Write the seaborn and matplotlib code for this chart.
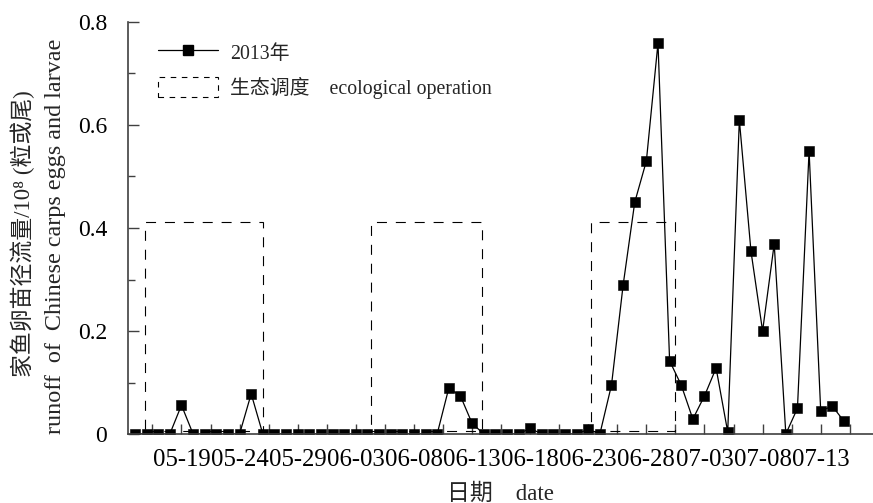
import numpy as np
import pandas as pd
import matplotlib
matplotlib.use("Agg")
import matplotlib.pyplot as plt
import seaborn as sns
from matplotlib.lines import Line2D
from matplotlib.patches import Patch, Rectangle
from matplotlib.ticker import FixedLocator, MultipleLocator

# ---------------- data ----------------
dates = pd.date_range("2013-05-15", "2013-07-15", freq="D")
runoff = [0, 0, 0, 0, 0.056, 0, 0, 0, 0, 0,
          0.078, 0, 0, 0, 0, 0, 0, 0, 0, 0,
          0, 0, 0, 0, 0, 0, 0, 0.089, 0.074, 0.021,
          0, 0, 0, 0, 0.011, 0, 0, 0, 0, 0.009,
          0, 0.095, 0.289, 0.45, 0.53, 0.759, 0.142, 0.095, 0.029, 0.074,
          0.128, 0.004, 0.61, 0.355, 0.2, 0.369, 0, 0.05, 0.55, 0.045,
          0.054, 0.025]
tick_labels = ["05-19", "05-24", "05-29", "06-03", "06-08", "06-13",
               "06-18", "06-23", "06-28", "07-03", "07-08", "07-13"]
# ecological operation periods (day offsets from 05-15) and box height
op_start = [0.9, 20.3, 39.2]
op_end = [11.0, 29.9, 46.5]
op_low = 0.005
op_high = 0.412

series_label = "2013年"
op_label = "生态调度    ecological operation"
ylabel_cn = "家鱼卵苗径流量/10⁸ (粒或尾)"
ylabel_en = "runoff  of  Chinese carps eggs and larvae"
xlabel = "日期    date"

# ---------------- style ----------------
sns.set_theme(style="ticks")
FAM = ["Liberation Serif", "Noto Sans CJK SC", "DejaVu Sans"]
plt.rcParams["font.family"] = FAM

W, H = 873, 503
fig = plt.figure(figsize=(W / 100, H / 100), dpi=100)
ax = fig.add_axes([128 / W, (H - 434) / H, (W - 128) / W, (434 - 22) / H])

df = pd.DataFrame({"day": np.arange(len(dates)), "runoff": runoff})
sns.lineplot(data=df, x="day", y="runoff", ax=ax, color="black", lw=0.9,
             marker="s", markersize=7.6, markeredgecolor="black",
             markerfacecolor="black", markeredgewidth=0.4)

for s, e in zip(op_start, op_end):
    ax.add_patch(Rectangle((s, op_low), e - s, op_high - op_low, fill=False,
                           edgecolor="black", lw=0.8, ls=(0, (9, 8)), zorder=1))

ax.set_xlim(-0.6, 63.5)
ax.set_ylim(0, 0.8)

label_dates = [(pd.Timestamp("2013-" + t) - dates[0]).days for t in tick_labels]
ax.xaxis.set_major_locator(FixedLocator(label_dates))
ax.set_xticklabels(tick_labels)
minor = [label_dates[0] - 2.5] + [d + 2.5 for d in label_dates]
ax.xaxis.set_minor_locator(FixedLocator(minor))
ax.set_yticks([0, 0.2, 0.4, 0.6, 0.8])
ax.set_yticklabels(["0", "0.2", "0.4", "0.6", "0.8"])
ax.yaxis.set_minor_locator(MultipleLocator(0.1))

ax.tick_params(axis="x", which="both", direction="in", length=7, width=1,
               color="#404040", labelsize=17.8, pad=10.5, labelcolor="black")
ax.tick_params(axis="y", which="major", direction="in", length=8, width=1,
               color="#404040", labelsize=17, pad=15, labelcolor="black")
ax.tick_params(axis="y", which="minor", direction="in", length=5, width=1,
               color="#404040")

for sp in ["top", "right"]:
    ax.spines[sp].set_visible(False)
for sp in ["left", "bottom"]:
    ax.spines[sp].set_color("#404040")
    ax.spines[sp].set_linewidth(1.2)

ax.set_xlabel(xlabel, fontsize=16.5, labelpad=9)
ax.set_ylabel("")
fig.text(23 / W, 1 - 234 / H, ylabel_cn, rotation=90, ha="center", va="center",
         fontsize=16.5, family=FAM)
fig.text(56 / W, 1 - 236 / H, ylabel_en, rotation=90, ha="center", va="center",
         fontsize=17.4, family=FAM)

handles = [Line2D([], [], color="black", lw=0.9, marker="s", markersize=7.6),
           Patch(facecolor="none", edgecolor="black", lw=0.8, ls=(0, (5, 5)))]
ax.legend(handles, [series_label, op_label], loc="upper left",
          bbox_to_anchor=(158 / W, 1 - 42 / H), bbox_transform=fig.transFigure,
          frameon=False, fontsize=14.3, handlelength=3.0, handleheight=1.2,
          handletextpad=0.65, labelspacing=0.65, borderpad=0, borderaxespad=0)

fig.savefig("out.png", dpi=100)
